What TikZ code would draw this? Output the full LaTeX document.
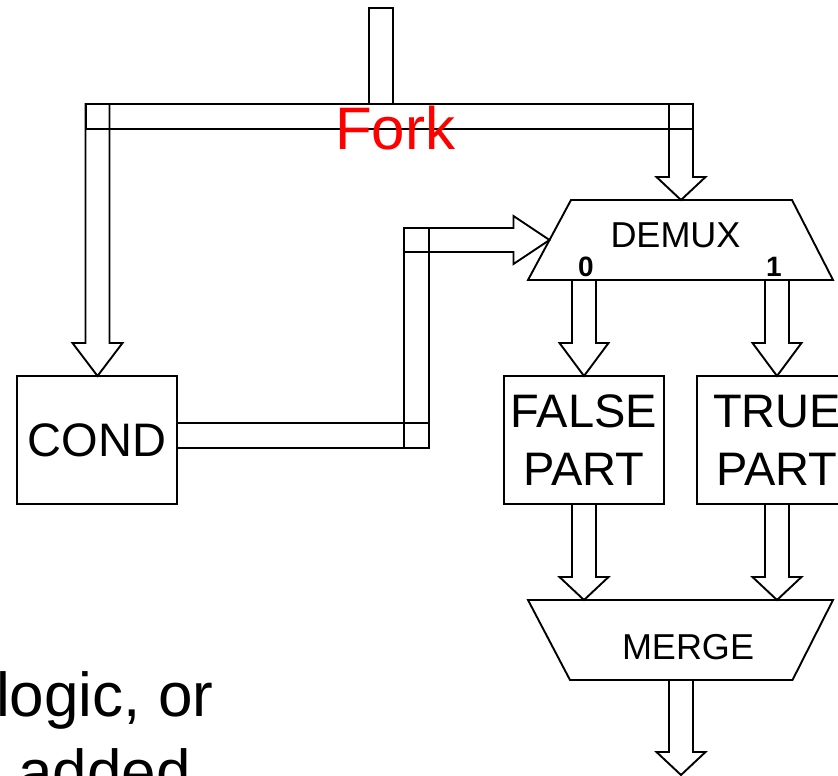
\documentclass[tikz,border=0pt]{standalone}
\usepackage{fontspec}
\setmainfont{Liberation Sans}
\usetikzlibrary{calc}

\tikzset{
  pipe/.style={draw=black, line width=1.9pt, line join=miter},
  block/.style={draw, line width=1.9pt, minimum width=160pt, minimum height=128pt,
    inner sep=0pt, outer sep=0pt, align=center, font=\fontsize{47}{58}\selectfont},
  mux/.style={draw, line width=1.9pt, line join=miter},
  lbl/.style={anchor=base, inner sep=0pt, font=\fontsize{36}{43}\selectfont},
  portlbl/.style={anchor=base, inner sep=0pt, font=\bfseries\fontsize{28}{34}\selectfont},
  slide/.style={anchor=base west, inner sep=0pt, font=\fontsize{62}{76}\selectfont},
}

% hollow block arrow pointing down: #1 start (shaft centre), #2 tip,
% #3 head length, #4 head half width
\newcommand\pipedown[4]{%
  \draw[pipe] let \p1=(#1), \p2=(#2) in
    (\x1-12pt,\y1) -- (\x1-12pt,\y2+#3) -- (\x1-#4,\y2+#3) -- (\x1,\y2)
    -- (\x1+#4,\y2+#3) -- (\x1+12pt,\y2+#3) -- (\x1+12pt,\y1) -- cycle;}
% hollow block arrow pointing right
\newcommand\piperight[4]{%
  \draw[pipe] let \p1=(#1), \p2=(#2) in
    (\x1,\y1+12pt) -- (\x2-#3,\y1+12pt) -- (\x2-#3,\y1+#4) -- (\x2,\y1)
    -- (\x2-#3,\y1-#4) -- (\x2-#3,\y1-12pt) -- (\x1,\y1-12pt) -- cycle;}

\begin{document}
\begin{tikzpicture}[x=1pt, y=-1pt]
\useasboundingbox (0,0) rectangle (838,776);
\clip (0,0) rectangle (838,776);

% blocks
\node[block] (cond)  at (97,440)  {COND};
\node[block] (fpart) at (584,440) {FALSE\\PART};
\node[block] (tpart) at (777,440) {TRUE\\PART};

% demultiplexer and merge trapezoids
\coordinate (demuxN) at (681,200);
\coordinate (demuxW) at (549.5,240);
\coordinate (demuxS) at (681,280);
\draw[mux] (571,200) -- (792,200) -- (833,280) -- (528,280) -- cycle;
\coordinate (mergeN) at (681,600);
\coordinate (mergeS) at (681,680);
\draw[mux] (528,600) -- (833,600) -- (792.5,680) -- (570,680) -- cycle;

% labels
\node[lbl] (demuxlbl) at (675.5,247.3) {DEMUX};
\node[portlbl] (port0) at (586,276) {0};
\node[portlbl] (port1) at (774,276) {1};
\node[lbl] (mergelbl) at (688,659.3) {MERGE};

% fork: input stub and bus
\coordinate (src)  at (381,8);
\coordinate (tap)  at (381,104);
\coordinate (busL) at (97.5,104);
\coordinate (busR) at (681,104);
\draw[pipe] ($(src)+(-12,0)$) rectangle ($(tap)+(12,0)$);
\draw[pipe] ($(busL)+(-11.5,0)$) rectangle ($(busR)+(12,25)$);
\pipedown{busL}{cond.north}{33pt}{25pt}
\pipedown{busR}{demuxN}{23pt}{24.5pt}

% condition into the demux select input
\coordinate (cout)  at (177,435.5);
\coordinate (bendB) at (416.5,435.5);
\coordinate (bendT) at (416.5,240);
\draw[pipe] ($(cout)+(0,-12.5)$) rectangle ($(bendB)+(12.5,12.5)$);
\draw[pipe] ($(bendT)+(-12.5,-12)$) rectangle ($(bendB)+(12.5,12.5)$);
\piperight{$(bendT)+(-12.5,0)$}{demuxW}{36pt}{24pt}

% demux outputs to the two parts
\pipedown{fpart.north |- demuxS}{fpart.north}{33pt}{24.5pt}
\pipedown{tpart.north |- demuxS}{tpart.north}{33pt}{24.5pt}

% parts into merge
\pipedown{fpart.south}{fpart.south |- mergeN}{23pt}{24.5pt}
\pipedown{tpart.south}{tpart.south |- mergeN}{23pt}{24.5pt}

% merge output
\coordinate (out) at (681,775);
\pipedown{mergeS}{out}{23pt}{24.5pt}

% fork label
\node[anchor=base, inner sep=0pt, text=red, font=\fontsize{60}{72}\selectfont]
  (forklbl) at (395,149.3) {Fork};

% slide text at the lower left
\node[slide] (slide1) at (-4,716.7) {logic, or};
\node[slide] (slide2) at (18,793) {added};
\end{tikzpicture}
\end{document}
